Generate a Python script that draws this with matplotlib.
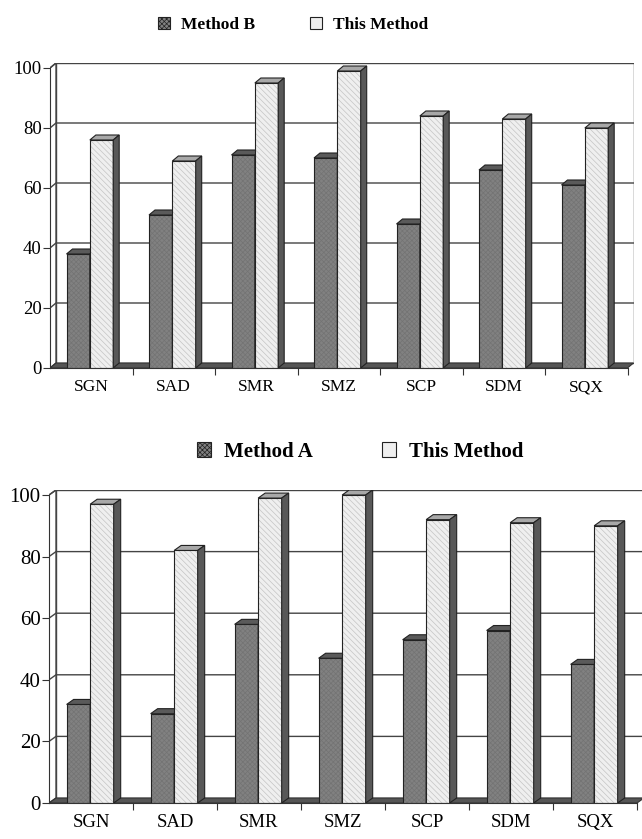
import numpy as np
import matplotlib
matplotlib.use("Agg")
import matplotlib.pyplot as plt
from matplotlib.patches import Polygon, Patch

# data
sites = ["SGN", "SAD", "SMR", "SMZ", "SCP", "SDM", "SQX"]
method_b = [38, 51, 71, 70, 48, 66, 61]
this_top = [76, 69, 95, 99, 84, 83, 80]
method_a = [32, 29, 58, 47, 53, 56, 45]
this_bot = [97, 82, 99, 100, 92, 91, 90]
yticks = [0, 20, 40, 60, 80, 100]

plt.rcParams['hatch.linewidth'] = 0.5
SERIF = ['Liberation Serif', 'DejaVu Serif']

W, H = 642, 839
fig = plt.figure(figsize=(W / 100, H / 100), dpi=100)

DARK = '#818181'
LIGHT = '#efefef'
SIDE = '#585858'
DARK_HATCH = '#737373'
LIGHT_HATCH = '#c4c4c4'


def add_axes_px(x0, y0, px_x, px_y, dx, dy, ymax=100, n=7):
    # x0,y0 = pixel of data origin, px_x/px_y = pixels per unit
    left = x0 / W
    bottom = (H - y0) / H
    width = (n + dx) * px_x / W
    height = (ymax + dy) * px_y / H
    ax = fig.add_axes([left, bottom, width, height])
    ax.set_xlim(0, n + dx)
    ax.set_ylim(0, ymax + dy)
    return ax


def draw_panel(ax, va, vb, dx, dy, ysize, xsize, off=0.2, w=0.283):
    n = len(sites)
    # walls
    ax.add_patch(Polygon([(dx, dy), (n + dx, dy), (n + dx, 100 + dy), (dx, 100 + dy)],
                         closed=True, fc='white', ec='#444444', lw=1, zorder=0))
    ax.add_patch(Polygon([(0, 0), (dx, dy), (dx, 100 + dy), (0, 100)],
                         closed=True, fc='white', ec='#444444', lw=1, zorder=0))
    # floor
    ax.add_patch(Polygon([(0, 0), (n, 0), (n + dx, dy), (dx, dy)],
                         closed=True, fc='#555555', ec='#333333', lw=0.8, zorder=1))
    # gridlines
    for v in yticks[1:]:
        ax.plot([0, dx, n + dx], [v, v + dy, v + dy], color='#444444', lw=1, zorder=1,
                solid_joinstyle='miter')

    x = np.arange(n)
    # draw group by group so neighbouring faces overlap correctly
    for i in range(n):
        for vals, xo, fc, hatch, hcol, topc in [
                (va, off, DARK, 'xxxxxxx', DARK_HATCH, '#5a5a5a'),
                (vb, off + w, LIGHT, '\\\\\\\\\\\\', LIGHT_HATCH, '#a8a8a8')]:
            bars = ax.bar([i + xo], [vals[i]], width=w, align='edge', color=fc,
                          edgecolor=hcol, hatch=hatch, lw=0, zorder=3 + i)
            ax.bar([i + xo], [vals[i]], width=w, align='edge', fill=False,
                   edgecolor='#222222', lw=0.8, zorder=3 + i)
            r = bars[0]
            x0, h = r.get_x(), r.get_height()
            x1 = x0 + r.get_width()
            ax.add_patch(Polygon([(x0, h), (x1, h), (x1 + dx, h + dy), (x0 + dx, h + dy)],
                                 closed=True, fc=topc, ec='#222222', lw=0.8, zorder=3 + i))
            ax.add_patch(Polygon([(x1, 0), (x1 + dx, dy), (x1 + dx, h + dy), (x1, h)],
                                 closed=True, fc=SIDE, ec='#222222', lw=0.8, zorder=3 + i))

    for s in ['top', 'right']:
        ax.spines[s].set_visible(False)
    ax.spines['left'].set_bounds(0, 100)
    ax.spines['bottom'].set_bounds(0, n)
    ax.spines['left'].set_color('#333333')
    ax.spines['bottom'].set_color('#333333')
    ax.spines['left'].set_zorder(20)
    ax.spines['bottom'].set_zorder(20)
    ax.set_yticks(yticks)
    ax.set_yticklabels([str(t) for t in yticks], family=SERIF, fontsize=ysize)
    ax.tick_params(axis='y', direction='out', length=5, pad=1, color='#333333')
    ax.set_xticks(np.arange(1, n + 1))
    ax.set_xticklabels([])
    ax.tick_params(axis='x', which='major', direction='out', length=5, color='#333333')
    ax.set_xticks(x + 0.5, minor=True)
    ax.set_xticklabels(sites, minor=True, family=SERIF, fontsize=xsize)
    ax.tick_params(axis='x', which='minor', length=0, pad=8)
    ax.set_facecolor('none')
    return ax


# top panel
px1, py1 = 82.5, 3.0
dx1, dy1 = 6 / px1, 5 / py1
ax1 = add_axes_px(50, 368, px1, py1, dx1, dy1)
draw_panel(ax1, method_b, this_top, dx1, dy1, 13.5, 12.5, off=0.2, w=0.283)

# bottom panel
px2, py2 = 84.0, 3.08
dx2, dy2 = 7 / px2, 5 / py2
ax2 = add_axes_px(49, 803, px2, py2, dx2, dy2)
draw_panel(ax2, method_a, this_bot, dx2, dy2, 15, 13.5, off=0.21, w=0.28)


def legend_for(name, size, cx, cy, spacing):
    handles = [Patch(fc=DARK, ec='#222222', hatch='xxxxxxx', lw=0.8),
               Patch(fc=LIGHT, ec='#222222', lw=0.8)]
    leg = fig.legend(handles, [name, 'This Method'], loc='center',
                     bbox_to_anchor=(cx / W, 1 - cy / H), ncol=2, frameon=False,
                     prop={'family': SERIF, 'weight': 'bold', 'size': size},
                     handlelength=0.7, handleheight=0.7, handletextpad=0.6,
                     columnspacing=spacing)
    return leg


legend_for('Method B', 12.5, 293, 25, 3.2)
legend_for('Method A', 15, 360, 452, 3.3)

fig.savefig('out.png', dpi=100)
